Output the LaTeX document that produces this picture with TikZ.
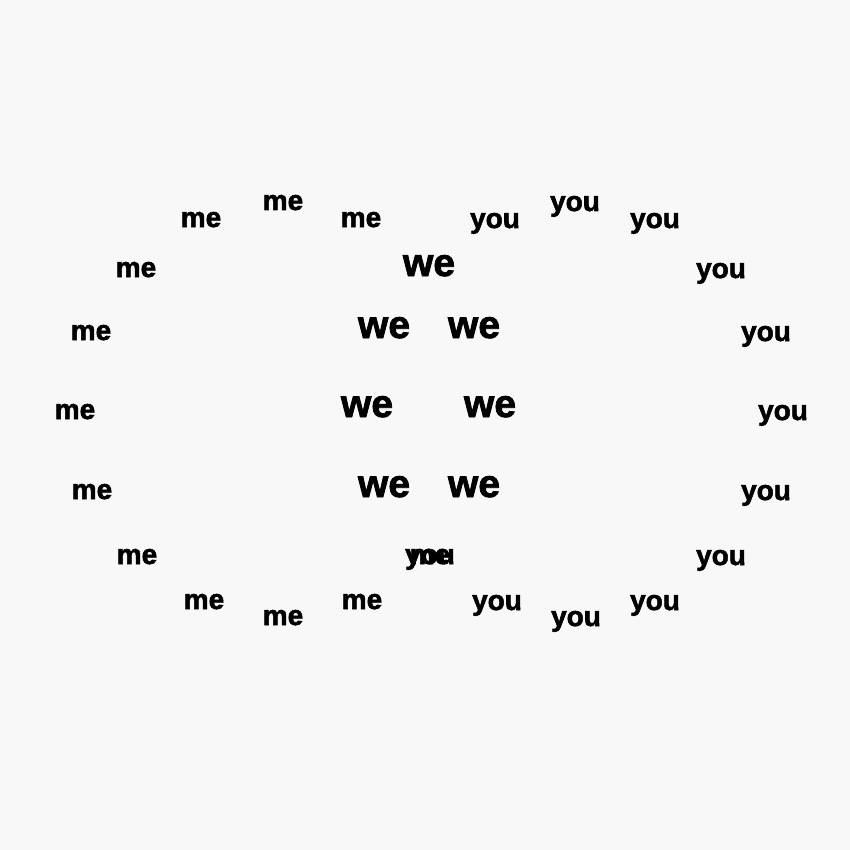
\documentclass[tikz,border=0pt]{standalone}
\usepackage{fontspec}
\setmainfont{Liberation Sans}
\newfontfamily\heavyfont{Liberation Sans Bold}[FakeBold=2]
\definecolor{bgcol}{HTML}{F8F8F8}
\begin{document}
\begin{tikzpicture}[x=1pt,y=-1pt,
  word/.style={anchor=base,inner sep=0pt,text=black,font=\heavyfont\fontsize{28}{30}\selectfont},
  bigword/.style={anchor=base,inner sep=0pt,text=black,font=\heavyfont\fontsize{39}{41}\selectfont}]
\fill[bgcol] (0,0) rectangle (850,850);
\useasboundingbox (0,0) rectangle (850,850);
% me
\node[word] (m1) at (201,227) {me};
\node[word] (m2) at (283,210) {me};
\node[word] (m3) at (361,227) {me};
\node[word] (m4) at (136,277) {me};
\node[word] (m5) at (91,340) {me};
\node[word] (m6) at (75,419) {me};
\node[word] (m7) at (92,499) {me};
\node[word] (m8) at (137,564) {me};
\node[word] (m9) at (204,609) {me};
\node[word] (m10) at (283,625) {me};
\node[word] (m11) at (362,609) {me};
\node[word] (m12) at (430,564) {me};
% you
\node[word] (y1) at (495,228) {you};
\node[word] (y2) at (575,211) {you};
\node[word] (y3) at (655,228) {you};
\node[word] (y4) at (721,278) {you};
\node[word] (y5) at (766,341) {you};
\node[word] (y6) at (783,420) {you};
\node[word] (y7) at (766,500) {you};
\node[word] (y8) at (721,565) {you};
\node[word] (y9) at (497,610) {you};
\node[word] (y10) at (576,626) {you};
\node[word] (y11) at (655,610) {you};
\node[word] (y12) at (430,564) {you};
% we
\node[bigword] (w1) at (429,276) {we};
\node[bigword] (w2) at (384,338) {we};
\node[bigword] (w3) at (474,338) {we};
\node[bigword] (w4) at (367,417) {we};
\node[bigword] (w5) at (490,417) {we};
\node[bigword] (w6) at (384,497) {we};
\node[bigword] (w7) at (474,497) {we};
\end{tikzpicture}
\end{document}
